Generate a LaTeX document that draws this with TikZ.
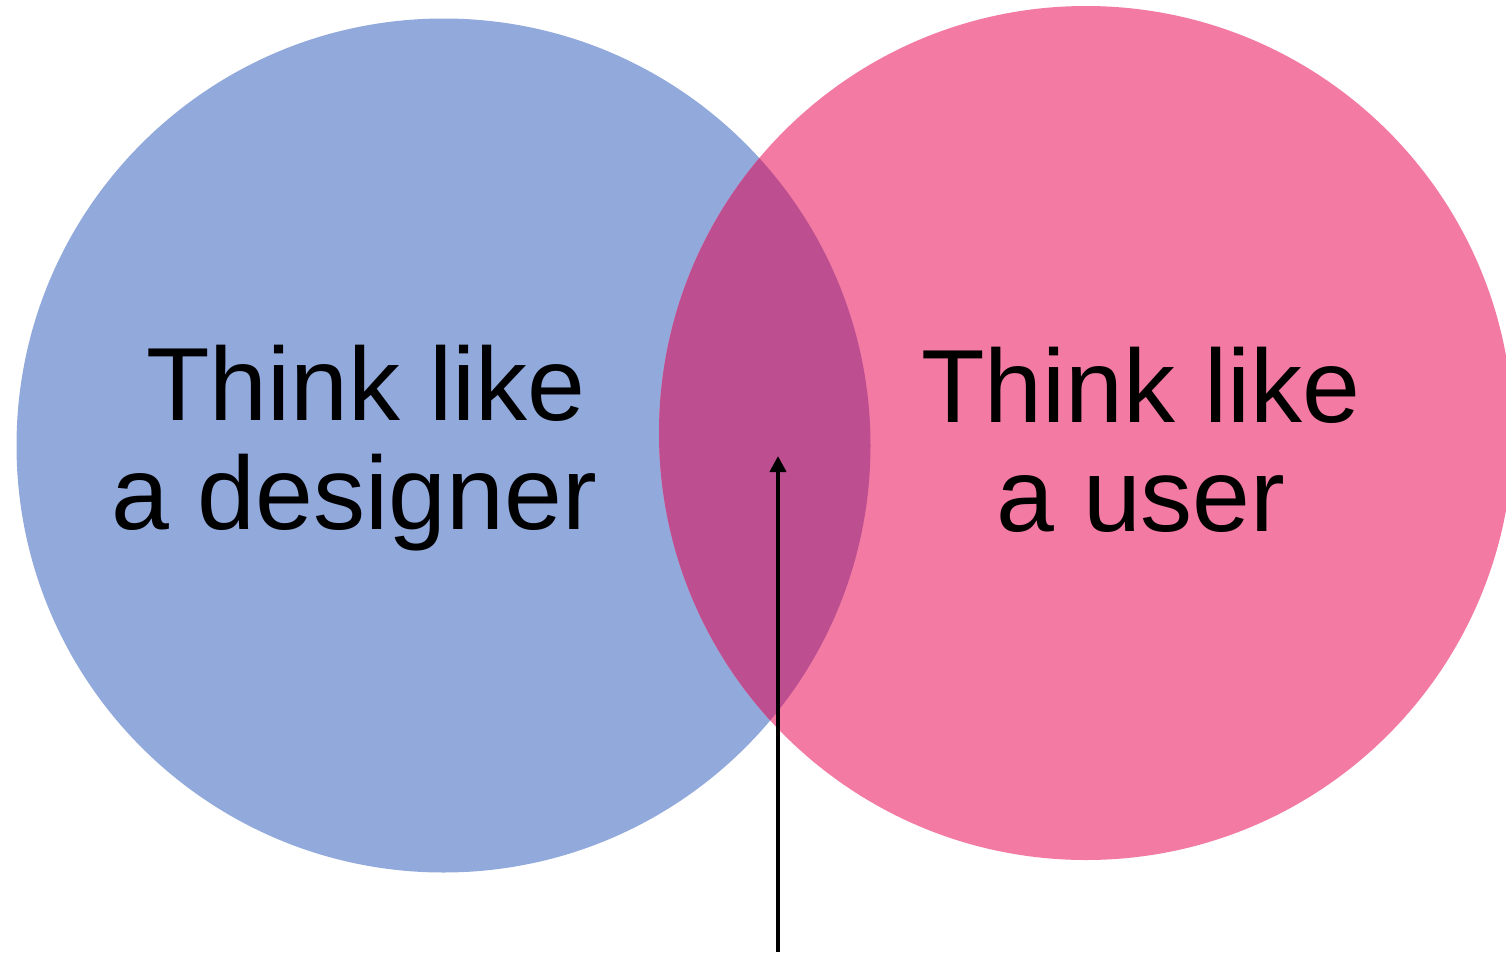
\documentclass[tikz,border=0pt]{standalone}
\usepackage{fontspec}
\setmainfont{Liberation Sans}
\usetikzlibrary{arrows.meta}
\definecolor{designerblue}{HTML}{92A9DC}
\definecolor{userpink}{HTML}{F27AA3}
\definecolor{overlapmag}{HTML}{BD4F91}
\tikzset{
  vennlabel/.style={align=center, inner sep=0pt, font=\fontsize{52}{54.5}\selectfont, text=black},
  pointer/.style={line width=2.2pt, -{Triangle[length=8pt,width=8pt]}}
}
\begin{document}
\begin{tikzpicture}[x=0.5pt,y=-0.5pt]
\useasboundingbox (0,0) rectangle (1506,954);
\fill[designerblue] (443.5,445.5) circle[radius=213.5pt];
\fill[userpink] (1086,433) circle[radius=213.5pt];
\begin{scope}
  \clip (443.5,445.5) circle[radius=213.5pt];
  \fill[overlapmag] (1086,433) circle[radius=213.5pt];
\end{scope}
\node[vennlabel] (designer) at (354,448) {\hspace*{12pt}Think like\\a designer};
\node[vennlabel] (user) at (1141,440) {Think like\\a user};
\coordinate (tail) at (778,952);
\coordinate (tip) at (778,456);
\draw[pointer] (tail) -- (tip);
\end{tikzpicture}
\end{document}
